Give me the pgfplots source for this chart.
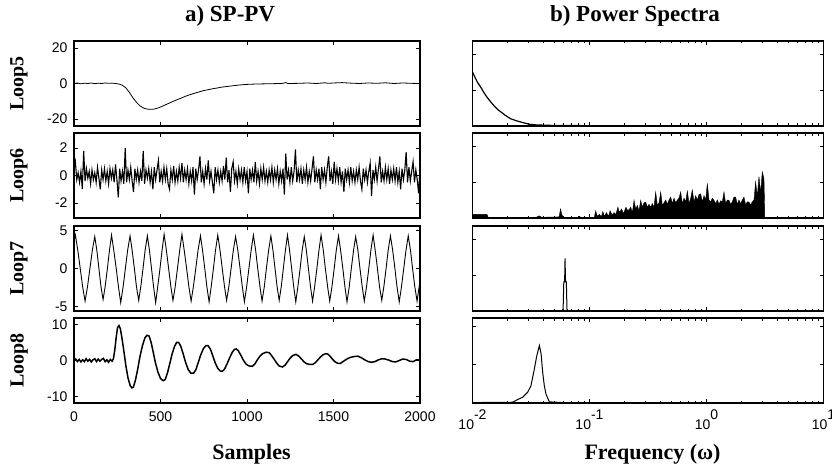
\documentclass[border=0pt]{standalone}
\usepackage{fontspec}
\setmainfont{Liberation Serif}
\newfontfamily\ticksf{Liberation Sans}
\usepackage{pgfplots}
\pgfplotsset{compat=1.18}
\pgfplotsset{
 base/.style={scale only axis, height=85pt, anchor=north west,
   axis line style={line width=1.3pt},
   xtick pos=both, ytick pos=both, xticklabel pos=lower, yticklabel pos=left,
   tick align=inside, major tick length=4pt, minor tick length=2.5pt,
   tick style={black, line width=0.7pt},
   tick label style={font=\fontsize{14}{14}\ticksf}},
 leftcol/.style={base, width=346pt, xmin=0, xmax=2000,
   xtick={0,500,1000,1500,2000},
   yticklabel style={xshift=-3pt},
   ylabel style={at={(axis description cs:-0.159,0.5)}, anchor=center,
     font=\fontsize{20}{20}\selectfont\bfseries}},
 rightcol/.style={base, width=351pt, xmin=0.01, xmax=10,
   xtick={0.01,0.1,1,10},
   minor xtick={0.02,0.03,0.04,0.05,0.06,0.07,0.08,0.09,0.2,0.3,0.4,0.5,0.6,0.7,0.8,0.9,2,3,4,5,6,7,8,9},
   ymin=0, ytick={0,1,2}, yticklabels={}},
}
\begin{document}
\begin{tikzpicture}
\useasboundingbox (0pt,0pt) rectangle (832pt,-468pt);
% ---------------- left column ----------------
\begin{axis}[leftcol, at={(74pt,-41pt)}, ymin=-24, ymax=24, ytick={-20,0,20}, yticklabels={-20,0,20},
  xticklabels={}, ylabel={Loop5},
  title={a) SP-PV}, title style={at={(axis description cs:0.451,1.153)}, anchor=base, font=\fontsize{23}{23}\selectfont\bfseries}]
\addplot[black, line width=0.8pt] coordinates {
(0,0)(20,0.3)(40,-0.2)(60,0.2)(80,0)(100,0.3)(120,-0.1)(140,0.2)(160,0)(180,0.3)(200,0.1)(220,0.2)(240,0)(260,-0.3)
(280,-1)(300,-2.5)(320,-5)(340,-8)(360,-10.5)(380,-12.5)(400,-13.8)(420,-14.4)(440,-14.6)(460,-14.5)(480,-14)
(500,-13.3)(525,-12.2)(550,-11.1)(575,-10)(600,-9)(625,-8)(650,-7)(675,-6.2)(700,-5.4)(725,-4.7)(750,-4)
(775,-3.5)(800,-3)(825,-2.6)(850,-2.1)(875,-1.8)(900,-1.5)(925,-1.2)(950,-0.9)(975,-0.7)(1000,-0.5)(1050,-0.3)
(1100,-0.2)(1150,-0.1)(1200,0)(1225,0.5)(1235,0)(1300,0.1)(1350,0.3)(1400,0)(1450,0.4)(1470,0.1)(1500,0.3)
(1550,0.5)(1600,0.2)(1650,0)(1700,0.3)(1750,0.1)(1800,0.4)(1850,0)(1900,0.3)(1950,0.1)(2000,0)};
\end{axis}

\begin{axis}[leftcol, at={(74pt,-133pt)}, ymin=-3.1, ymax=3.1, ytick={-2,0,2}, yticklabels={-2,0,2},
  xticklabels={}, ylabel={Loop6}]
\addplot[black, line width=1.1pt] coordinates {
(0,0.4)(8,1.0)(16,-0.3)(24,0.2)(32,-0.5)(40,0.3)(48,-1.0)(56,1.8)(64,-0.4)(72,0.5)(80,-0.2)(88,0.3)(96,-0.6)
(104,0.4)(112,-0.3)(120,0.2)(128,-0.5)(136,0.6)(144,-0.2)(152,-1.0)(160,0.4)(168,-0.3)(176,0.5)(184,-0.4)
(192,0.3)(200,-0.6)(208,0.5)(216,-0.2)(224,0.4)(232,-0.5)(240,0.8)(248,-0.3)(256,-1.6)(264,0.5)(272,-0.4)
(280,0.3)(288,-0.6)(296,2.0)(304,-0.5)(312,0.4)(320,-0.3)(328,0.6)(336,-0.4)(344,-1.2)(352,0.5)(360,-0.3)
(368,0.4)(376,-0.5)(384,0.3)(392,-0.4)(400,1.8)(408,-0.6)(416,0.4)(424,-0.2)(432,0.5)(440,-0.5)(448,0.3)
(456,-1.0)(464,0.6)(472,-0.3)(480,0.4)(488,1.1)(496,-0.5)(504,0.3)(512,-0.4)(520,0.6)(528,-0.3)(536,0.5)
(544,-0.6)(552,-1.0)(560,0.4)(568,-0.3)(576,0.7)(584,-0.5)(592,0.3)(600,-0.4)(608,0.6)(616,-0.2)(624,0.9)
(632,-0.5)(640,0.4)(648,-0.3)(656,0.5)(664,-0.6)(672,0.3)(680,-0.4)(688,0.6)(696,-1.4)(704,0.5)(712,-0.3)
(720,0.4)(728,1.4)(736,-0.5)(744,0.3)(752,-0.6)(760,0.5)(768,-0.3)(776,1.1)(784,-0.4)(792,0.3)(800,-0.5)
(808,-1.3)(816,0.6)(824,-0.3)(832,0.4)(840,-0.5)(848,0.3)(856,-0.4)(864,0.7)(872,-0.3)(880,1.3)(888,-0.5)
(896,0.4)(904,-1.2)(912,0.5)(920,1.0)(928,-0.4)(936,0.3)(944,-0.6)(952,0.5)(960,-0.3)(968,0.4)(976,-0.5)
(984,0.6)(992,-0.4)(1000,0.3)(1008,-1.3)(1016,0.5)(1024,-0.3)(1032,0.4)(1040,-0.5)(1048,1.0)(1056,-0.4)
(1064,0.3)(1072,-0.6)(1080,0.5)(1088,-0.3)(1096,0.6)(1104,-0.4)(1112,0.3)(1120,-0.5)(1128,0.4)(1136,-0.3)
(1144,0.6)(1152,-0.5)(1160,0.4)(1168,-0.3)(1176,0.5)(1184,-0.6)(1192,0.3)(1200,-0.4)(1208,0.5)(1216,-1.4)
(1224,1.6)(1232,-0.3)(1240,0.4)(1248,-0.5)(1256,0.6)(1264,-0.4)(1272,0.3)(1280,1.9)(1288,-0.5)(1296,0.4)
(1304,-0.3)(1312,0.5)(1320,-0.6)(1328,0.4)(1336,-0.3)(1344,0.6)(1352,-0.5)(1360,0.3)(1368,-0.4)(1376,0.5)
(1384,1.4)(1392,-0.5)(1400,0.4)(1408,-0.3)(1416,0.5)(1424,-1.0)(1432,0.6)(1440,-0.3)(1448,0.4)(1456,-0.5)
(1464,0.6)(1472,1.4)(1480,-0.4)(1488,0.3)(1496,-0.6)(1504,1.0)(1512,-0.3)(1520,0.5)(1528,-0.4)(1536,0.6)
(1544,-0.5)(1552,0.3)(1560,-1.2)(1568,0.5)(1576,-0.3)(1584,0.4)(1592,-0.5)(1600,0.6)(1608,-0.4)(1616,0.3)
(1624,-0.5)(1632,0.4)(1640,-0.3)(1648,0.6)(1656,-0.4)(1664,-1.0)(1672,0.5)(1680,-0.3)(1688,0.4)(1696,-0.5)
(1704,0.3)(1712,0.9)(1720,-1.5)(1728,0.4)(1736,-0.3)(1744,0.6)(1752,-0.4)(1760,0.5)(1768,1.4)(1776,-0.5)
(1784,0.3)(1792,-0.4)(1800,0.6)(1808,-0.3)(1816,0.5)(1824,-0.6)(1832,0.4)(1840,-0.3)(1848,0.5)(1856,-0.4)
(1864,0.6)(1872,-0.5)(1880,0.3)(1888,-1.0)(1896,0.5)(1904,-0.3)(1912,0.4)(1920,1.7)(1928,-0.5)(1936,0.6)
(1944,-0.4)(1952,0.3)(1960,1.0)(1968,-0.5)(1976,0.4)(1984,-0.3)(1992,-1.3)(2000,0.5)};
\end{axis}

\begin{axis}[leftcol, at={(74pt,-226pt)}, ymin=-5.6, ymax=5.6, ytick={-5,0,5}, yticklabels={-5,0,5},
  xticklabels={}, ylabel={Loop7}]
\addplot[black, line width=0.9pt] coordinates {
(0,3.6)(8,4.4)(22,2.4)(36,0)(50,-2.4)(64,-4.3)
(78,-2.4)(92,0)(106,2.4)(120,4.2)(132,2.4)(144,0)(156,-2.4)(168,-4.1)
(180,-2.4)(193,0)(205,2.4)(217,4.4)(230,2.4)(244,0)(257,-2.4)(270,-4.5)
(284,-2.4)(297,0)(310,2.4)(324,4.3)(336,2.4)(349,0)(361,-2.4)(374,-4.2)
(386,-2.4)(399,0)(411,2.4)(424,4.3)(436,2.4)(448,0)(460,-2.4)(472,-4.5)
(484,-2.4)(497,0)(509,2.4)(521,4.5)(534,2.4)(547,0)(560,-2.4)(572,-4.2)
(585,-2.4)(598,0)(611,2.4)(624,4.5)(637,2.4)(651,0)(664,-2.4)(677,-4.3)
(690,-2.4)(704,0)(717,2.4)(731,4.3)(743,2.4)(756,0)(768,-2.4)(781,-4.4)
(793,-2.4)(806,0)(818,2.4)(831,4.4)(844,2.4)(857,0)(870,-2.4)(882,-4.2)
(895,-2.4)(908,0)(921,2.4)(934,4.2)(947,2.4)(960,0)(973,-2.4)(985,-4.4)
(998,-2.4)(1011,0)(1024,2.4)(1037,4.4)(1050,2.4)(1062,0)(1075,-2.4)(1087,-4.3)
(1100,-2.4)(1112,0)(1125,2.4)(1138,4.3)(1150,2.4)(1162,0)(1174,-2.4)(1186,-4.2)
(1198,-2.4)(1210,0)(1222,2.4)(1234,4.4)(1246,2.4)(1258,0)(1270,-2.4)(1282,-4.4)
(1294,-2.4)(1307,0)(1319,2.4)(1331,4.2)(1343,2.4)(1355,0)(1367,-2.4)(1379,-4.3)
(1391,-2.4)(1404,0)(1416,2.4)(1428,4.4)(1441,2.4)(1453,0)(1466,-2.4)(1478,-4.3)
(1491,-2.4)(1504,0)(1516,2.4)(1529,4.3)(1541,2.4)(1554,0)(1566,-2.4)(1578,-4.4)
(1591,-2.4)(1603,0)(1616,2.4)(1628,4.2)(1641,2.4)(1653,0)(1666,-2.4)(1678,-4.3)
(1691,-2.4)(1704,0)(1716,2.4)(1729,4.4)(1741,2.4)(1754,0)(1766,-2.4)(1779,-4.2)
(1791,-2.4)(1804,0)(1816,2.4)(1829,4.3)(1842,2.4)(1855,0)(1867,-2.4)(1880,-4.4)
(1893,-2.4)(1906,0)(1919,2.4)(1932,4.3)(1945,2.4)(1957,0)(1970,-2.4)(1983,-4.3)
(1995,-2.4)(2000,-1.6)};
\end{axis}

\begin{axis}[leftcol, at={(74pt,-318pt)}, ymin=-11.8, ymax=11.8, ytick={-10,0,10}, yticklabels={-10,0,10},
  xticklabels={0,500,1000,1500,2000}, xticklabel style={yshift=-5pt}, ylabel={Loop8},
  xlabel={Samples}, xlabel style={at={(axis description cs:0.513,-0.66)}, anchor=base, font=\fontsize{22}{22}\selectfont\bfseries}]
\addplot[black, line width=1.5pt] coordinates {
(0,0)(10,0.4)(20,-0.3)(30,0.3)(40,-0.4)(50,0.2)(60,-0.3)(70,0.5)(80,-0.2)(90,0.3)(100,-0.4)(110,0.2)(120,0.5)
(130,-0.3)(140,0.4)(150,-0.2)(160,0.3)(170,0.6)(180,-0.3)(190,0.2)(200,-0.5)(210,0.3)(220,-0.2)(228,0.5)
(236,3)(244,6.5)(252,9.2)(260,9.7)(268,8.8)(278,6)(290,2)(300,-1.5)(312,-4.8)(325,-7)(335,-7.6)(343,-7.4)
(355,-5.5)(368,-2.5)(380,0.8)(395,4)(410,6.3)(422,7.0)(434,6.8)(446,5)(458,2.3)(470,-0.5)(485,-3.2)(500,-5)
(515,-5.6)(527,-5.3)(540,-3.5)(553,-1)(566,1.6)(580,3.8)(593,5)(605,5.0)(617,4)(630,2)(645,-0.5)(660,-2.5)
(675,-3.5)(692,-3.5)(705,-2.5)(718,-0.6)(732,1.5)(748,3.3)(762,4.1)(775,4.1)(788,3.2)(800,1.6)(815,-0.5)
(830,-2.1)(845,-2.9)(857,-3.0)(870,-2.4)(885,-0.9)(900,0.8)(915,2.3)(928,3.1)(938,3.2)(950,2.7)(965,1.4)
(980,0)(995,-1)(1010,-1.5)(1031,-1.6)(1045,-1)(1060,0.2)(1075,1.2)(1090,1.9)(1110,2.3)(1128,2.2)(1140,1.5)
(1155,0.5)(1170,-0.6)(1185,-1.5)(1205,-1.8)(1220,-1.3)(1235,-0.3)(1250,0.7)(1265,1.4)(1283,1.7)(1300,1.2)
(1315,0.4)(1330,-0.4)(1345,-0.9)(1365,-1.1)(1380,-1.1)(1395,-0.6)(1410,0.2)(1425,1)(1440,1.6)(1455,1.9)
(1467,1.8)(1480,1.2)(1495,0.3)(1510,-0.4)(1525,-0.8)(1540,-0.8)(1555,-0.3)(1570,0.2)(1585,0.6)(1600,0.9)
(1620,1.1)(1641,1.2)(1660,0.8)(1680,0.2)(1700,-0.3)(1720,-0.5)(1740,-0.3)(1760,0.2)(1780,0.5)(1800,0.4)
(1820,0.1)(1840,-0.3)(1860,-0.4)(1880,0)(1900,0.4)(1920,0.3)(1940,-0.2)(1960,-0.3)(1980,0.2)(2000,0.1)};
\end{axis}

% ---------------- right column ----------------
\begin{semilogxaxis}[rightcol, at={(472.5pt,-41pt)}, ymax=2.36, xticklabels={},
  title={b) Power Spectra}, title style={at={(axis description cs:0.463,1.153)}, anchor=base, font=\fontsize{23}{23}\selectfont\bfseries}]
\addplot[black, line width=1.2pt] coordinates {
(0.009,1.7)(0.01,1.5)(0.0105,1.35)(0.011,1.22)(0.0118,1.07)(0.0125,0.93)(0.0133,0.8)(0.0143,0.67)(0.0155,0.54)
(0.0165,0.45)(0.0175,0.39)(0.019,0.3)(0.0212,0.2)(0.0235,0.15)(0.0259,0.11)(0.028,0.08)(0.0305,0.05)(0.035,0.03)
(0.05,0.015)(0.1,0.01)(1,0.01)(3.1416,0.01)};
\end{semilogxaxis}

\begin{semilogxaxis}[rightcol, at={(472.5pt,-133pt)}, ymax=2.36, xticklabels={}]
\addplot[black, fill=black, line width=0.4pt] coordinates {
(0.009,0.1)(0.0133,0.1)(0.0136,0.02)(0.035,0.02)(0.0371,0.06)(0.039,0.02)(0.055,0.03)(0.0565,0.25)(0.058,0.1)
(0.0595,0.02)(0.08,0.02)(0.082,0.05)(0.084,0.02)(0.11,0.02)(0.113,0.2)(0.116,0.05)(0.122,0.1)(0.126,0.03)
(0.13,0.18)(0.134,0.05)(0.14,0.15)(0.145,0.04)(0.15,0.2)(0.156,0.08)(0.162,0.15)(0.168,0.1)(0.175,0.3)
(0.18,0.15)(0.188,0.25)(0.195,0.12)(0.205,0.3)(0.212,0.2)(0.22,0.25)
(0.2250,0.3)(0.2325,0.15)(0.2402,0.49)(0.2482,0.25)(0.2565,0.35)(0.2651,0.2)(0.2739,0.49)(0.2830,0.3)
(0.2925,0.42)(0.3022,0.44)(0.3123,0.3)(0.3227,0.38)(0.3335,0.3)(0.3446,0.4)(0.3561,0.3)(0.3679,0.72)
(0.3802,0.35)(0.3929,0.42)(0.4060,0.72)(0.4195,0.35)(0.4335,0.42)(0.4479,0.5)(0.4629,0.38)(0.4783,0.5)
(0.4942,0.58)(0.5107,0.4)(0.5277,0.55)(0.5453,0.42)(0.5635,0.5)(0.5822,0.55)(0.6016,0.72)(0.6217,0.4)
(0.6424,0.55)(0.6638,0.45)(0.6859,0.75)(0.7088,0.4)(0.7324,0.55)(0.7568,0.78)(0.7820,0.45)(0.8081,0.62)
(0.8350,0.5)(0.8628,0.65)(0.8916,0.67)(0.9213,0.45)(0.9520,0.62)(0.9837,0.5)(1.0165,0.96)(1.0503,0.5)
(1.0853,0.45)(1.1215,0.55)(1.1589,0.49)(1.1975,0.4)(1.2374,0.5)(1.2786,0.38)(1.3212,0.48)(1.3652,0.45)
(1.4107,0.72)(1.4577,0.4)(1.5063,0.5)(1.5565,0.49)(1.6084,0.38)(1.6620,0.45)(1.7174,0.58)(1.7746,0.58)
(1.8337,0.38)(1.8948,0.5)(1.9580,0.4)(2.0232,0.5)(2.0906,0.58)(2.1603,0.36)(2.2323,0.45)(2.3067,0.44)
(2.3836,0.36)(2.4630,0.45)(2.5451,0.5)(2.6299,1.0)(2.7176,0.6)(2.8081,1.15)(2.9017,0.7)(2.9984,1.28)
(3.0983,1.1)(3.1416,0.2)(3.1416,0)} \closedcycle;
\end{semilogxaxis}

\begin{semilogxaxis}[rightcol, at={(472.5pt,-226pt)}, ymax=2.36, xticklabels={}]
\addplot[black, line width=1.0pt] coordinates {
(0.009,0.01)(0.058,0.01)(0.0595,0.05)(0.0603,0.81)(0.0613,0.81)(0.0618,1.46)(0.0624,0.81)(0.0634,0.81)
(0.0642,0.05)(0.0655,0.01)(3.1416,0.01)};
\end{semilogxaxis}

\begin{semilogxaxis}[rightcol, at={(472.5pt,-318pt)}, ymax=2.22,
  xticklabels={10\raisebox{10pt}{-2},10\raisebox{10pt}{-1},10\raisebox{10pt}{0},10\raisebox{10pt}{1}},
  xticklabel style={yshift=-3pt},
  xlabel={Frequency (ω)}, xlabel style={at={(axis description cs:0.513,-0.66)}, anchor=base, font=\fontsize{22}{22}\selectfont\bfseries}]
\addplot[black, line width=1.0pt] coordinates {
(0.009,0.01)(0.022,0.02)(0.0243,0.09)(0.0268,0.15)(0.0296,0.28)(0.0316,0.45)(0.0338,0.89)(0.0354,1.23)
(0.0373,1.5)(0.0386,1.28)(0.0398,0.8)(0.0411,0.45)(0.0425,0.23)(0.0454,0.03)(0.06,0.01)(3.1416,0.01)};
\end{semilogxaxis}
\end{tikzpicture}
\end{document}
